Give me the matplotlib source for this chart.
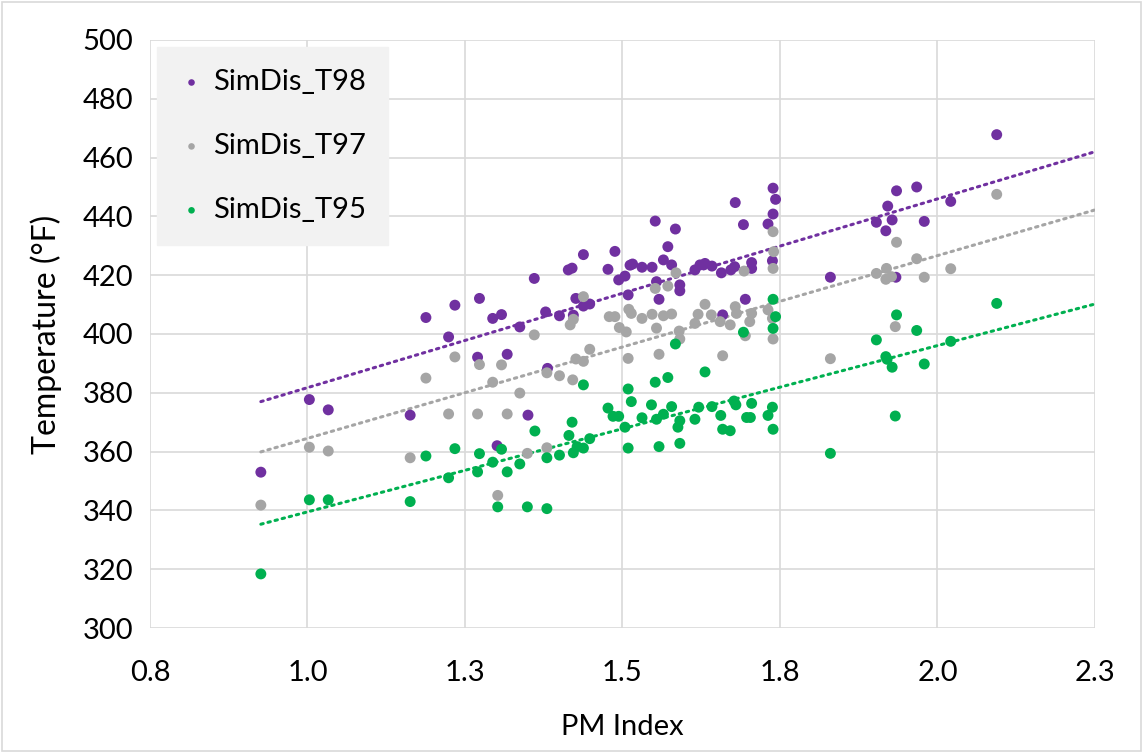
import numpy as np
import matplotlib.pyplot as plt
from matplotlib.patches import Rectangle

# ----------- data
t98_x = [0.926, 1.003, 1.033, 1.163, 1.188, 1.224, 1.234, 1.270, 1.273, 1.294,
         1.301, 1.308, 1.317, 1.337, 1.350, 1.360, 1.378, 1.381, 1.400, 1.414,
         1.420, 1.422, 1.426, 1.438, 1.438, 1.448, 1.477, 1.488, 1.494, 1.504,
         1.509, 1.512, 1.516, 1.531, 1.547, 1.552, 1.554, 1.558, 1.565, 1.572,
         1.578, 1.584, 1.591, 1.591, 1.615, 1.623, 1.631, 1.642, 1.657, 1.659,
         1.672, 1.678, 1.679, 1.692, 1.695, 1.705, 1.705, 1.731, 1.738, 1.739,
         1.743, 1.739, 1.830, 1.903, 1.918, 1.921, 1.928, 1.934, 1.935, 1.967,
         1.979, 2.021, 2.094]
t98_y = [353.0, 377.7, 374.2, 372.4, 405.6, 399.0, 409.8, 392.1, 412.1, 405.3,
         362.0, 406.6, 393.1, 402.4, 372.4, 418.9, 407.5, 388.3, 406.2, 421.8,
         422.4, 406.4, 412.1, 427.0, 409.5, 410.2, 422.0, 428.1, 418.4, 419.7,
         413.3, 423.4, 423.8, 422.7, 422.7, 438.4, 417.8, 411.8, 425.2, 429.7,
         423.5, 435.7, 416.7, 414.7, 421.8, 423.5, 424.0, 423.1, 420.8, 406.5,
         421.8, 422.9, 444.7, 437.2, 411.8, 424.3, 422.3, 437.4, 424.9, 449.6,
         445.8, 440.8, 419.3, 438.0, 435.1, 443.5, 438.8, 419.3, 448.7, 450.0,
         438.3, 445.1, 467.8]

t97_x = [0.926, 1.003, 1.033, 1.163, 1.188, 1.224, 1.234, 1.270, 1.273, 1.294,
         1.302, 1.308, 1.317, 1.337, 1.349, 1.360, 1.380, 1.380, 1.400, 1.417,
         1.421, 1.422, 1.426, 1.438, 1.438, 1.448, 1.479, 1.488, 1.495, 1.506,
         1.509, 1.510, 1.514, 1.531, 1.547, 1.552, 1.554, 1.558, 1.565, 1.572,
         1.578, 1.585, 1.590, 1.591, 1.615, 1.620, 1.631, 1.641, 1.655, 1.659,
         1.671, 1.679, 1.681, 1.693, 1.695, 1.702, 1.705, 1.731, 1.738, 1.739,
         1.739, 1.740, 1.739, 1.830, 1.903, 1.918, 1.919, 1.927, 1.933, 1.935,
         1.967, 1.979, 2.021, 2.094]
t97_y = [341.8, 361.5, 360.2, 357.9, 385.0, 372.8, 392.2, 372.8, 389.6, 383.6,
         345.1, 389.5, 372.8, 379.9, 359.4, 399.7, 386.8, 361.3, 385.8, 403.1,
         384.4, 405.0, 391.5, 390.7, 412.7, 394.8, 405.9, 405.9, 402.2, 400.7,
         391.7, 408.4, 407.0, 405.3, 406.7, 415.5, 402.0, 393.1, 406.2, 416.3,
         406.8, 420.8, 401.0, 398.3, 403.6, 406.7, 410.1, 406.5, 404.2, 392.6,
         403.1, 409.3, 407.0, 421.4, 399.4, 404.2, 407.0, 408.2, 405.3, 398.3,
         422.3, 428.0, 434.8, 391.6, 420.6, 418.6, 422.3, 419.5, 402.5, 431.2,
         425.6, 419.3, 422.2, 447.5]

t95_x = [0.926, 1.003, 1.033, 1.163, 1.188, 1.224, 1.234, 1.270, 1.273, 1.294,
         1.302, 1.308, 1.317, 1.337, 1.349, 1.361, 1.380, 1.380, 1.400, 1.415,
         1.420, 1.422, 1.428, 1.438, 1.438, 1.448, 1.477, 1.485, 1.494, 1.504,
         1.509, 1.509, 1.514, 1.531, 1.546, 1.552, 1.554, 1.558, 1.565, 1.572,
         1.578, 1.584, 1.588, 1.591, 1.591, 1.615, 1.621, 1.631, 1.642, 1.656,
         1.659, 1.671, 1.677, 1.680, 1.692, 1.697, 1.703, 1.705, 1.731, 1.738,
         1.739, 1.739, 1.743, 1.739, 1.830, 1.903, 1.918, 1.920, 1.928, 1.933,
         1.935, 1.967, 1.979, 2.021, 2.094]
t95_y = [318.4, 343.6, 343.6, 343.0, 358.5, 351.1, 361.0, 353.1, 359.3, 356.4,
         341.2, 360.8, 353.1, 355.8, 341.2, 367.0, 340.6, 357.9, 358.8, 365.5,
         370.0, 359.6, 361.7, 361.2, 382.7, 364.4, 374.8, 372.0, 372.0, 368.3,
         381.3, 361.2, 377.0, 371.5, 375.9, 383.6, 371.0, 361.7, 372.7, 385.2,
         375.3, 396.6, 368.3, 370.5, 362.8, 371.0, 375.1, 387.1, 375.3, 372.3,
         367.6, 367.1, 377.2, 375.9, 400.6, 371.6, 371.6, 376.4, 372.3, 375.1,
         367.6, 411.8, 405.9, 401.9, 359.4, 398.0, 392.3, 391.4, 388.7, 372.1,
         406.5, 401.2, 389.8, 397.5, 410.4]

# linear trendlines as drawn in the chart (start / end of each)
trend_x = [0.926, 2.25]
trend_t98 = [377.0, 462.0]
trend_t97 = [359.9, 442.2]
trend_t95 = [335.3, 410.2]

series_names = ["SimDis_T98", "SimDis_T97", "SimDis_T95"]
colors = ["#7030A0", "#A5A5A5", "#00B050"]

x_ticks = [0.75, 1.0, 1.25, 1.5, 1.75, 2.0, 2.25]
x_ticklabels = ["0.8", "1.0", "1.3", "1.5", "1.8", "2.0", "2.3"]
y_ticks = list(range(300, 501, 20))

#-----------
plt.rcParams['font.family'] = ['Lato', 'DejaVu Sans']
fs = 21

fig = plt.figure(figsize=(11.43, 7.53), dpi=100)
ax = fig.add_axes([0.1312, 0.166, 0.8268, 0.7809])

data = [(t98_x, t98_y), (t97_x, t97_y), (t95_x, t95_y)]
for (xs, ys), name, c in zip(data, series_names, colors):
    ax.scatter(xs, ys, s=62, color=c, edgecolors='none', label=name, zorder=3)

for ty, c in zip([trend_t98, trend_t97, trend_t95], colors):
    ax.plot(trend_x, ty, color=c, lw=2.2, linestyle=(0, (0.8, 1.6)),
            dash_capstyle='round', zorder=2)

ax.set_xlim(x_ticks[0], x_ticks[-1])
ax.set_ylim(300, 500)
ax.set_xticks(x_ticks)
ax.set_xticklabels(x_ticklabels)
ax.set_yticks(y_ticks)
ax.grid(color='#D9D9D9', lw=1.2)
ax.set_axisbelow(True)
for s in ax.spines.values():
    s.set_visible(False)
ax.tick_params(axis='both', length=0, labelsize=fs, colors='#000000')
ax.tick_params(axis='x', pad=23)
ax.tick_params(axis='y', pad=12)
ax.set_xlabel('PM Index', fontsize=fs, labelpad=20)
ax.set_ylabel('Temperature (°F)', fontsize=23, labelpad=15)

leg = ax.legend(loc='upper left', fontsize=fs, frameon=True, fancybox=False,
                facecolor='#F2F2F2', edgecolor='#F2F2F2', framealpha=1,
                markerscale=0.6, handletextpad=0.3, labelspacing=1.3,
                borderpad=0.75, borderaxespad=0.25, handlelength=0.85)

# chart area border
fig.patches.append(Rectangle((0.002, 0.003), 0.996, 0.994, transform=fig.transFigure,
                             fill=False, edgecolor='#D9D9D9', lw=1.2))

fig.savefig('out.png', dpi=100)
